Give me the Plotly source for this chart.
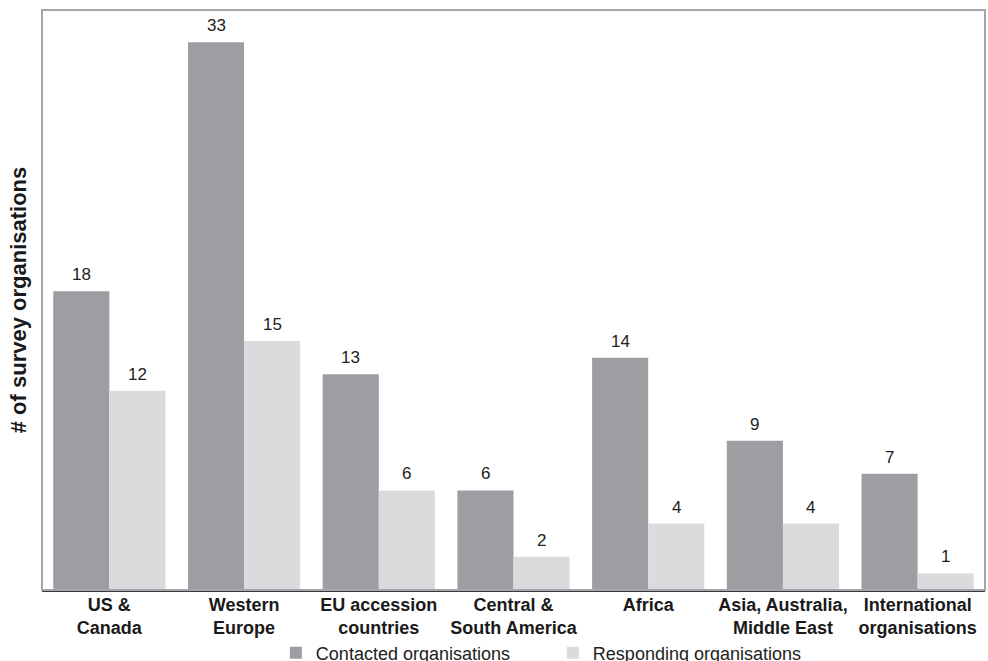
import plotly.graph_objects as go

regions = ["US &<br>Canada", "Western<br>Europe", "EU accession<br>countries",
           "Central &<br>South America", "Africa", "Asia, Australia,<br>Middle East",
           "International<br>organisations"]
contacted = [18, 33, 13, 6, 14, 9, 7]
responding = [12, 15, 6, 2, 4, 4, 1]

dark = "#9d9ea2"
light = "#dbdbdd"
font_family = "Liberation Sans, Arial, sans-serif"

idx = list(range(len(regions)))

fig = go.Figure()
fig.add_trace(go.Bar(x=idx, y=contacted, name="Contacted organisations",
                     marker=dict(color=dark, line=dict(width=0))))
fig.add_trace(go.Bar(x=idx, y=responding, name="Responding organisations",
                     marker=dict(color=light, line=dict(width=0))))

bargap = 0.167
half = (1 - bargap) / 4
for series, sign in ((contacted, -1), (responding, 1)):
    for i, v in enumerate(series):
        fig.add_annotation(x=i + sign * half, y=v, text=str(v), showarrow=False,
                           yanchor="bottom", yshift=5,
                           font=dict(size=17, color="#222222", family=font_family))

# frame around the plotting area
fig.add_shape(type="rect", xref="paper", yref="paper", x0=0, y0=0, x1=1, y1=1,
              line=dict(color="#a3a7ad", width=2), layer="above")

fig.update_layout(
    width=988, height=661,
    margin=dict(l=42, r=3, t=10, b=71, autoexpand=False),
    paper_bgcolor="white", plot_bgcolor="white",
    barmode="group", bargap=bargap, bargroupgap=0,
    font=dict(family=font_family, color="#1a1a1a"),
    showlegend=True,
    legend=dict(orientation="h", x=0.248, xanchor="left", y=-0.077, yanchor="top",
                bgcolor="rgba(0,0,0,0)",
                font=dict(size=18, color="#222222"), itemwidth=30,
                entrywidth=232, traceorder="normal"),
    xaxis=dict(tickvals=idx, ticktext=regions, range=[-0.5, len(regions) - 0.5],
               tickfont=dict(size=18, weight="bold", color="#1a1a1a"),
               ticklabelstandoff=-3,
               showline=True, linecolor="#3a3a3a", linewidth=2,
               ticks="", showgrid=False, zeroline=False),
    yaxis=dict(range=[0, 34.95], showticklabels=False, ticks="", showgrid=False,
               zeroline=False, showline=False,
               title=dict(text="# of survey organisations", standoff=8,
                          font=dict(size=22, weight="bold", color="#1a1a1a"))),
)

fig.write_html("out.html")
